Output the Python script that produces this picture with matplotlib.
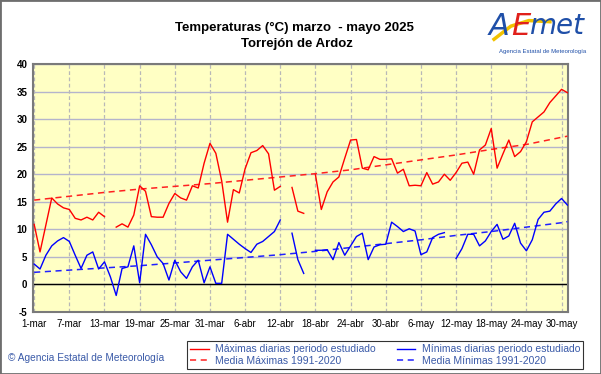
import numpy as np
import matplotlib
matplotlib.use('Agg')
import matplotlib.pyplot as plt
from matplotlib.lines import Line2D
from matplotlib.patches import Rectangle

plt.rcParams['font.family'] = ['Liberation Sans', 'DejaVu Sans']
plt.rcParams['axes.unicode_minus'] = False

# Daily values, 1-mar .. 31-may 2025 (nan = no data)
nan = np.nan
t_max = [10.9, 5.9, 10.8, 15.7, 14.6, 13.9, 13.6, 12.0, 11.7, 12.2,
         11.7, 13.1, 12.3, nan, 10.4, 11.0, 10.4, 12.6, 17.9, 16.9,
         12.3, 12.2, 12.2, 14.7, 16.5, 15.7, 15.3, 17.9, 17.5, 22.0,
         25.6, 23.8, 18.8, 11.3, 17.2, 16.6, 21.0, 23.9, 24.3, 25.2,
         23.7, 17.1, 17.8, nan, 17.6, 13.3, 12.9, nan, 19.9, 13.6,
         16.8, 18.6, 19.5, 22.9, 26.2, 26.3, 21.1, 20.8, 23.2, 22.7,
         22.7, 22.8, 20.2, 20.9, 17.9, 18.0, 17.9, 20.3, 18.2, 18.6,
         20.0, 18.9, 20.3, 22.0, 22.2, 20.0, 24.4, 25.3, 28.3, 21.1,
         23.7, 26.2, 23.2, 24.1, 25.9, 29.5, 30.4, 31.3, 33.0, 34.2,
         35.4, 34.8]
t_min = [3.7, 2.8, 5.3, 7.0, 7.9, 8.5, 7.8, 5.3, 2.9, 5.3,
         5.9, 2.8, 4.1, 1.4, -2.0, 2.9, 3.2, 7.0, 0.3, 9.1,
         7.2, 5.0, 3.8, 0.8, 4.4, 2.3, 1.1, 3.2, 4.4, 0.3,
         3.2, 0.2, 0.2, 9.1, 8.2, 7.3, 6.5, 5.8, 7.3, 7.8,
         8.7, 9.6, 11.7, nan, 9.3, 4.5, 2.0, nan, 6.2, 6.2,
         6.3, 4.5, 7.6, 5.3, 7.0, 8.7, 9.3, 4.5, 6.8, 7.2,
         7.3, 11.3, 10.5, 9.6, 10.1, 9.7, 5.4, 5.9, 8.5, 9.1,
         9.4, nan, 4.7, 6.5, 9.1, 9.1, 7.0, 7.9, 9.6, 10.9,
         8.2, 8.8, 11.1, 7.5, 6.1, 8.1, 11.8, 13.1, 13.3, 14.6,
         15.6, 14.4]

# 1991-2020 means, read at the tick days
mean_days = [0, 6, 12, 18, 24, 30, 36, 42, 48, 54, 60, 66, 72, 78, 84, 90, 91]
mean_max = [15.3, 16.0, 16.7, 17.3, 17.8, 18.3, 18.9, 19.5, 20.1, 20.8,
            21.7, 22.6, 23.5, 24.5, 25.4, 26.7, 26.9]
mean_min = [2.2, 2.6, 3.0, 3.4, 3.9, 4.4, 4.9, 5.4, 6.0, 6.7,
            7.4, 8.1, 8.9, 9.6, 10.4, 11.2, 11.4]

tick_days = [0, 6, 12, 18, 24, 30, 36, 42, 48, 54, 60, 66, 72, 78, 84, 90]
tick_labels = ['1-mar', '7-mar', '13-mar', '19-mar', '25-mar', '31-mar',
               '6-abr', '12-abr', '18-abr', '24-abr', '30-abr', '6-may',
               '12-may', '18-may', '24-may', '30-may']

days = np.arange(len(t_max))

fig = plt.figure(figsize=(6.01, 3.74), dpi=100)
fig.patch.set_facecolor('white')
ax = fig.add_axes([33 / 601, 1 - 312 / 374, 535 / 601, 248 / 374])
ax.set_facecolor('#FFFFC4')

# Grid
for y in range(-5, 41, 5):
    ax.axhline(y, color='#B4B4CC', lw=1.0, zorder=1)
for d in tick_days:
    ax.axvline(d, color='#B8B8B8', lw=0.9, ls=(0, (3, 2)), zorder=1)
ax.axhline(0, color='black', lw=1.0, zorder=2)

# Series
ax.plot(days, t_max, color='#FF0000', lw=1.0, zorder=4)
ax.plot(days, t_min, color='#0000FF', lw=1.0, zorder=4)
ax.plot(mean_days, mean_max, color='#FF2020', lw=1.1, ls=(0, (4, 3)), zorder=3)
ax.plot(mean_days, mean_min, color='#2020FF', lw=1.1, ls=(0, (4, 3)), zorder=3)

ax.set_xlim(-0.2, 91.1)
ax.set_ylim(-5, 40)
ax.set_yticks(range(-5, 41, 5))
ax.set_xticks(tick_days)
ax.set_xticklabels(tick_labels)
ax.tick_params(axis='both', length=0, labelsize=7, pad=5)
ax.tick_params(axis='y', pad=4)
for lab in ax.get_yticklabels():
    lab.set_fontweight('bold')
for s in ax.spines.values():
    s.set_color('#7A7A7A')
    s.set_linewidth(1.5)

# Titles
fig.text(0.49, 0.925, 'Temperaturas (°C) marzo  - mayo 2025', ha='center', va='center',
         fontsize=9.5, fontweight='bold')
fig.text(0.494, 0.882, 'Torrejón de Ardoz', ha='center', va='center',
         fontsize=9.5, fontweight='bold')

# AEMET logo (text based)
swoosh_x = np.array([0.822, 0.85, 0.88, 0.915])
swoosh_y = np.array([0.895, 0.93, 0.945, 0.942])
fig.add_artist(Line2D(swoosh_x, swoosh_y, color='#F2C200', lw=2.5, transform=fig.transFigure))
fig.text(0.813, 0.93, 'A', color='#1F4FA8', fontsize=22, style='italic',
         family='DejaVu Sans', fontweight='light', va='center')
fig.text(0.851, 0.93, 'E', color='#E0201B', fontsize=22, style='italic',
         family='DejaVu Sans', fontweight='light', va='center')
fig.text(0.881, 0.93, 'met', color='#1F4FA8', fontsize=20, style='italic',
         family='DejaVu Sans', fontweight='light', va='center')
fig.text(0.903, 0.862, 'Agencia Estatal de Meteorología', color='#1F4FA8',
         fontsize=4.3, ha='center', va='center')

# Copyright
fig.text(0.013, 0.043, '© Agencia Estatal de Meteorología', color='#3A5AA8',
         fontsize=7.3, va='center')

# Legend
handles = [Line2D([0], [0], color='#FF0000', lw=1.0),
           Line2D([0], [0], color='#FF2020', lw=1.1, ls=(0, (4, 3))),
           Line2D([0], [0], color='#0000FF', lw=1.0),
           Line2D([0], [0], color='#2020FF', lw=1.1, ls=(0, (4, 3)))]
labels = ['Máximas diarias periodo estudiado', 'Media Máximas 1991-2020',
          'Mínimas diarias periodo estudiado', 'Media Mínimas 1991-2020']
leg = fig.legend(handles, labels, ncol=2, loc='lower left',
                 bbox_to_anchor=(187 / 601, 5 / 374, 396 / 601, 32 / 374),
                 mode='expand', fontsize=7.5, frameon=True, fancybox=False,
                 borderaxespad=0, handlelength=1.8, handletextpad=0.6,
                 labelspacing=0.15, borderpad=0.3)
leg.get_frame().set_edgecolor('black')
leg.get_frame().set_linewidth(0.8)
for txt in leg.get_texts():
    txt.set_color('#3A5AA8')

# Outer frame
fig.add_artist(Rectangle((0, 0), 1, 1, transform=fig.transFigure, fill=False,
                         edgecolor='#6E6E6E', lw=2))

fig.savefig('out.png', dpi=100, facecolor='white')
